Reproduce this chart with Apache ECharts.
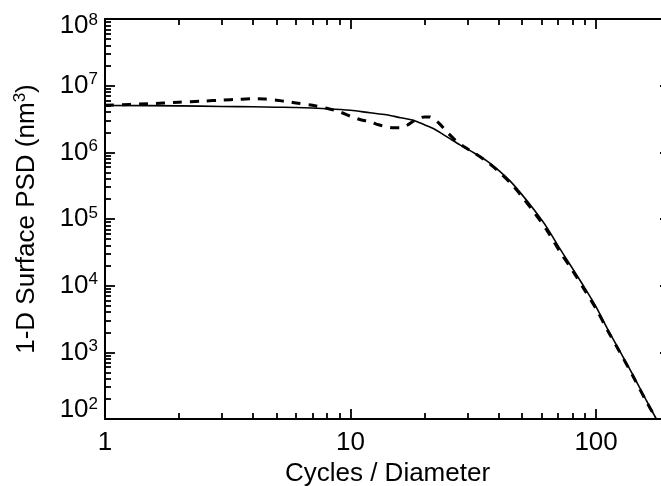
<!DOCTYPE html>
<html>
<head>
<meta charset="utf-8">
<script src="https://cdn.jsdelivr.net/npm/echarts@6/dist/echarts.min.js"></script>
<style>
  html, body { margin: 0; padding: 0; background: #fff; }
  #chart { width: 661px; height: 486px; }
</style>
</head>
<body>
<div id="chart"></div>
<script>
// model fit (solid line)
var solidFreq = [1, 2, 3, 4, 5, 6, 8, 10, 12, 14, 16, 18, 20, 22, 25, 28, 32, 36, 40, 45, 50, 56, 63, 71, 80, 90, 100, 112, 125, 140, 160, 176];
var solidPsd = [5.05e6, 4.98e6, 4.88e6, 4.83e6, 4.75e6, 4.70e6, 4.51e6, 4.28e6, 3.92e6, 3.66e6, 3.30e6, 3.03e6, 2.59e6, 2.22e6, 1.66e6, 1.28e6, 9.7e5, 7.4e5, 5.4e5, 3.6e5, 2.3e5, 1.36e5, 7.5e4, 3.65e4, 1.83e4, 9.2e3, 4.8e3, 2.15e3, 1.04e3, 488, 192, 100];

// measured (dashed line)
var measFreq = [1, 1.5, 2, 2.5, 3, 3.5, 4, 4.5, 5, 5.5, 6, 7, 8, 9, 10, 11, 12, 13, 14, 15, 16, 17, 18, 19, 20, 21, 22, 23, 25, 27, 29, 32, 36, 40, 45, 50, 56, 63, 71, 80, 90, 100, 112, 125, 140, 160, 176];
var measPsd = [5.08e6, 5.36e6, 5.64e6, 5.87e6, 6.08e6, 6.25e6, 6.36e6, 6.30e6, 6.04e6, 5.78e6, 5.49e6, 5.08e6, 4.58e6, 4.06e6, 3.48e6, 3.08e6, 2.88e6, 2.59e6, 2.42e6, 2.34e6, 2.34e6, 2.55e6, 2.92e6, 3.24e6, 3.40e6, 3.40e6, 3.08e6, 2.69e6, 1.93e6, 1.47e6, 1.21e6, 9.7e5, 7.2e5, 5.2e5, 3.4e5, 2.15e5, 1.25e5, 6.8e4, 3.3e4, 1.7e4, 8.5e3, 4.5e3, 2.05e3, 1.0e3, 470, 185, 100];

// ticks
var xMajor = [1, 10, 100];
var xMinor = [2, 3, 4, 5, 6, 7, 8, 9, 20, 30, 40, 50, 60, 70, 80, 90, 200];
var yMajor = [1e2, 1e3, 1e4, 1e5, 1e6, 1e7, 1e8];
var yMinor = [];
for (var p = 2; p < 8; p++) {
    for (var m = 2; m < 10; m++) yMinor.push(m * Math.pow(10, p));
}

var FONT = 'Liberation Sans';
var BLACK = '#000';

function pairData(xs, ys) {
    return xs.map(function (x, i) { return [x, ys[i]]; });
}

// one axis per tick size, stacked on the same side (major + minor)
function makeAxis(kind, pos, ticks, len, withLine) {
    return {
        type: 'log',
        logBase: 10,
        position: pos,
        offset: 0,
        min: kind === 'x' ? 1 : 1e2,
        max: kind === 'x' ? 200 : 1e8,
        axisLine: { show: withLine, lineStyle: { color: BLACK, width: 2 } },
        axisTick: { inside: true, length: len, customValues: ticks, lineStyle: { color: BLACK, width: 1.8 } },
        axisLabel: { show: false },
        splitLine: { show: false },
        minorTick: { show: false }
    };
}

var xBottom = makeAxis('x', 'bottom', xMajor, 10, true);
xBottom.axisLabel = {
    show: true, customValues: xMajor, margin: 11,
    color: BLACK, fontFamily: FONT, fontSize: 26,
    formatter: function (v) { return String(Math.round(v)); }
};
xBottom.name = 'Cycles / Diameter';
xBottom.nameLocation = 'middle';
xBottom.nameGap = 41;
xBottom.nameTextStyle = { color: BLACK, fontFamily: FONT, fontSize: 26 };

var yLeft = makeAxis('y', 'left', yMajor, 10, true);
yLeft.axisLabel = {
    show: true, customValues: yMajor, margin: 7,
    color: BLACK, fontFamily: FONT,
    formatter: function (v) {
        var e = Math.round(Math.log10(v));
        var k = e === 8 ? 'hi' : (e === 2 ? 'lo' : 'n');
        return '{' + k + '|10}{' + k + 's|' + e + '}';
    },
    rich: {
        n: { fontSize: 26, lineHeight: 26, fontFamily: FONT, color: BLACK },
        ns: { fontSize: 17, lineHeight: 17, fontFamily: FONT, color: BLACK, padding: [0, 0, 12, 0] },
        hi: { fontSize: 26, lineHeight: 26, fontFamily: FONT, color: BLACK, padding: [14, 0, 0, 0] },
        his: { fontSize: 17, lineHeight: 17, fontFamily: FONT, color: BLACK, padding: [2, 0, 0, 0] },
        lo: { fontSize: 26, lineHeight: 26, fontFamily: FONT, color: BLACK, padding: [0, 0, 18, 0] },
        los: { fontSize: 17, lineHeight: 17, fontFamily: FONT, color: BLACK, padding: [0, 0, 30, 0] }
    }
};
yLeft.name = '1-D Surface PSD (nm{s|3})';
yLeft.nameLocation = 'middle';
yLeft.nameGap = 64;
yLeft.nameTextStyle = {
    color: BLACK, fontFamily: FONT, fontSize: 26,
    rich: { s: { fontSize: 17, fontFamily: FONT, color: BLACK, padding: [0, 0, 12, 0] } }
};

var chart = echarts.init(document.getElementById('chart'));
chart.setOption({
    animation: false,
    backgroundColor: '#fff',
    grid: { left: 105, top: 19, right: -9, bottom: 67, containLabel: false, outerBoundsMode: 'none' },
    xAxis: [
        xBottom,
        makeAxis('x', 'top', xMajor, 10, true),
        makeAxis('x', 'bottom', xMinor, 6, false),
        makeAxis('x', 'top', xMinor, 6, false)
    ],
    yAxis: [
        yLeft,
        makeAxis('y', 'right', yMajor, 10, true),
        makeAxis('y', 'left', yMinor, 6, false),
        makeAxis('y', 'right', yMinor, 6, false)
    ],
    series: [
        {
            name: 'model',
            type: 'line',
            xAxisIndex: 0,
            yAxisIndex: 0,
            data: pairData(solidFreq, solidPsd),
            showSymbol: false,
            smooth: 0.3,
            lineStyle: { color: BLACK, width: 1.6 }
        },
        {
            name: 'measured',
            type: 'line',
            xAxisIndex: 0,
            yAxisIndex: 0,
            data: pairData(measFreq, measPsd),
            showSymbol: false,
            smooth: 0.3,
            lineStyle: { color: BLACK, width: 3, type: [9, 8] }
        }
    ]
});
</script>
</body>
</html>
